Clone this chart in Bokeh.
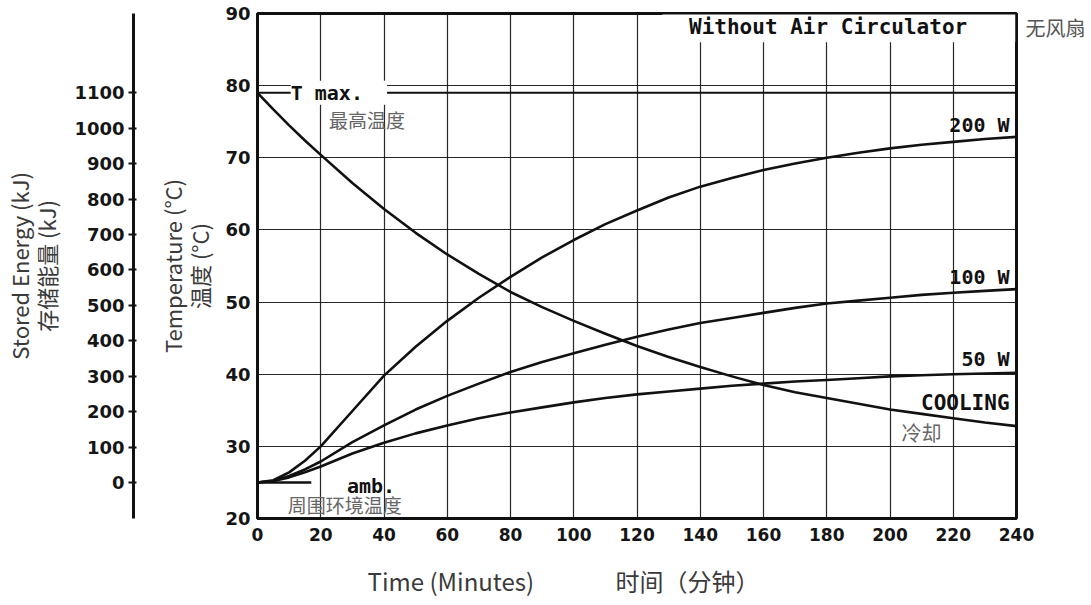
from bokeh.plotting import figure
from bokeh.models import (Range1d, LinearAxis, FixedTicker, Label, Span, BoxAnnotation)
from bokeh.embed import file_html
from bokeh.resources import INLINE

# ---------------- data ----------------
time_min = [0, 5, 10, 15, 20, 30, 40, 50, 60, 70, 80, 90, 100, 110, 120,
            130, 140, 150, 160, 170, 180, 190, 200, 210, 220, 230, 240]
temp_200w = [25.0, 25.3, 26.4, 28.0, 30.0, 34.9, 39.8, 43.8, 47.4, 50.6, 53.5, 56.2, 58.6, 60.8, 62.7,
             64.5, 66.0, 67.2, 68.3, 69.2, 70.0, 70.7, 71.3, 71.8, 72.2, 72.6, 72.9]
temp_100w = [25.0, 25.2, 25.9, 26.8, 27.9, 30.6, 32.9, 35.1, 37.0, 38.7, 40.3, 41.7, 42.9, 44.1, 45.2,
             46.2, 47.1, 47.8, 48.5, 49.2, 49.8, 50.2, 50.6, 51.0, 51.3, 51.55, 51.8]
temp_50w = [25.0, 25.2, 25.7, 26.4, 27.2, 29.0, 30.5, 31.8, 32.9, 33.9, 34.7, 35.4, 36.1, 36.7, 37.2,
            37.6, 38.0, 38.4, 38.7, 39.0, 39.2, 39.45, 39.7, 39.85, 40.0, 40.1, 40.2]
temp_cooling = [79.0, 76.7, 74.5, 72.4, 70.4, 66.5, 62.9, 59.6, 56.6, 53.9, 51.4, 49.3, 47.4, 45.6, 43.9,
                42.4, 41.0, 39.7, 38.5, 37.5, 36.7, 35.9, 35.1, 34.5, 33.9, 33.3, 32.8]

T_AMB = 25.0      # ambient temperature (°C)  -> 0 kJ stored
T_MAX = 79.0      # maximum temperature (°C)  -> 1100 kJ stored
amb_marker_minutes = [0, 17]

time_ticks = list(range(0, 241, 20))
temp_ticks = list(range(20, 91, 10))
energy_ticks = list(range(0, 1101, 100))

x_title_en = "Time  (Minutes)"
x_title_zh = "时间（分钟）"
temp_title = "Temperature (°C)\n温度 (°C)"
energy_title = "Stored Energy (kJ)\n存储能量 (kJ)"
side_note = "无风扇"

# ---------------- figure ----------------
TEMP_MIN, TEMP_MAX = 20, 90
kj_per_deg = energy_ticks[-1] / (T_MAX - T_AMB)

p = figure(width=1088, height=600, x_range=Range1d(0, 240), y_range=Range1d(TEMP_MIN, TEMP_MAX),
           output_backend="svg", toolbar_location=None,
           min_border_left=257, min_border_right=72, min_border_top=13, min_border_bottom=80)
p.extra_y_ranges = {"energy": Range1d((TEMP_MIN - T_AMB) * kj_per_deg, (TEMP_MAX - T_AMB) * kj_per_deg)}

p.background_fill_color = "white"
p.border_fill_color = "white"
p.outline_line_color = "#111111"
p.outline_line_width = 3
p.outline_line_alpha = 1.0

TICK_FONT = "DejaVu Sans"
MONO = "DejaVu Sans Mono"
CJK = "Noto Sans CJK SC"

# x axis
xa = p.xaxis[0]
xa.ticker = FixedTicker(ticks=time_ticks)
xa.axis_line_color = None
xa.major_tick_out = 0
xa.major_tick_in = 0
xa.minor_tick_line_color = None
xa.major_label_standoff = 9
xa.major_label_text_font = TICK_FONT
xa.major_label_text_font_style = "bold"
xa.major_label_text_font_size = "17px"
xa.major_label_text_color = "#151515"

# x title as a second bottom axis (labels at the title positions)
x_title_pos = [62, 136]
xt = LinearAxis(ticker=FixedTicker(ticks=x_title_pos),
                major_label_overrides={x_title_pos[0]: x_title_en, x_title_pos[1]: x_title_zh},
                axis_line_color=None, major_tick_line_color=None, minor_tick_line_color=None,
                major_tick_out=0, major_tick_in=0, major_label_standoff=19,
                major_label_text_font=CJK, major_label_text_font_size="24px",
                major_label_text_color="#3a3a3a")
p.add_layout(xt, "below")

# temperature axis
ya = p.yaxis[0]
ya.ticker = FixedTicker(ticks=temp_ticks)
ya.axis_line_color = None
ya.major_tick_out = 0
ya.major_tick_in = 0
ya.minor_tick_line_color = None
ya.major_label_standoff = 7
ya.major_label_text_font = TICK_FONT
ya.major_label_text_font_style = "bold"
ya.major_label_text_font_size = "18px"
ya.major_label_text_color = "#151515"
ya.axis_label = temp_title
ya.axis_label_standoff = 7
ya.axis_label_text_font = CJK
ya.axis_label_text_font_style = "normal"
ya.axis_label_text_font_size = "22px"
ya.axis_label_text_line_height = 0.85
ya.axis_label_text_color = "#3a3a3a"

# invisible spacer between temperature axis and energy axis
spacer = LinearAxis(y_range_name="energy", ticker=FixedTicker(ticks=[]),
                    axis_line_color=None, major_tick_line_color=None, minor_tick_line_color=None,
                    major_tick_out=0, major_tick_in=0, minor_tick_out=0, minor_tick_in=0,
                    axis_label=" ", axis_label_standoff=6, axis_label_text_font_size="10px",
                    axis_label_text_color="white")
p.add_layout(spacer, "left")

# energy axis
ea = LinearAxis(y_range_name="energy", ticker=FixedTicker(ticks=energy_ticks),
                axis_line_color="#111111", axis_line_width=3,
                major_tick_line_color="#111111", major_tick_line_width=2,
                major_tick_in=3, major_tick_out=5,
                minor_tick_line_color=None,
                major_label_standoff=4,
                major_label_text_font=TICK_FONT, major_label_text_font_style="bold",
                major_label_text_font_size="18px", major_label_text_color="#151515",
                axis_label=energy_title, axis_label_standoff=9,
                axis_label_text_font=CJK, axis_label_text_font_style="normal",
                axis_label_text_font_size="22px", axis_label_text_line_height=0.85,
                axis_label_text_color="#3a3a3a")
p.add_layout(ea, "left")

# right side note as a right axis label
note_pos = [88]
ra = LinearAxis(ticker=FixedTicker(ticks=note_pos), major_label_overrides={note_pos[0]: side_note},
                axis_line_color=None, major_tick_line_color=None, minor_tick_line_color=None,
                major_tick_out=0, major_tick_in=0, major_label_standoff=9,
                major_label_text_font=CJK, major_label_text_font_size="20px",
                major_label_text_color="#555555")
p.add_layout(ra, "right")

# grid
for g, tk in ((p.xgrid[0], time_ticks), (p.ygrid[0], temp_ticks)):
    g.ticker = FixedTicker(ticks=tk)
    g.grid_line_color = "#111111"
    g.grid_line_width = 1.2
    g.grid_line_alpha = 0.9

# white box behind the title text
p.add_layout(BoxAnnotation(left=128, right=239.6, bottom=86, top=89.85,
                           fill_color="white", fill_alpha=1.0, line_color=None))

# T max line and ambient marker
p.add_layout(Span(location=T_MAX, dimension="width", line_color="#111111", line_width=2))
p.line(amb_marker_minutes, [T_AMB, T_AMB], line_color="#111111", line_width=2.5)

# curves
for series in (temp_cooling, temp_200w, temp_100w, temp_50w):
    p.line(time_min, series, line_color="#111111", line_width=2.6, line_join="round")


def lab(x, y, text, font, size, color="#111111", align="left", style="normal", bg=None):
    kw = dict(x=x, y=y, text=text, text_font=font, text_font_size=size, text_color=color,
              text_align=align, text_baseline="middle", text_font_style=style)
    if bg:
        kw.update(background_fill_color=bg, background_fill_alpha=1.0)
    p.add_layout(Label(**kw))


# labels inside the plot
lab(232.4, 88.1, "Without  Air  Circulator", MONO, "21px", style="bold", align="right")
lab(10.5, T_MAX, " T max. ", MONO, "20px", style="bold", bg="white")
lab(22.6, 75.3, "最高温度", CJK, "19px", color="#666666")
lab(28.3, 24.5, "amb.", MONO, "20px", style="bold")
lab(9.6, 22.0, "周围环境温度", CJK, "19px", color="#666666")
lab(237.8, 74.6, "200 W", MONO, "20px", style="bold", align="right")
lab(237.8, 53.5, "100 W", MONO, "20px", style="bold", align="right")
lab(237.8, 42.1, "50 W", MONO, "20px", style="bold", align="right")
lab(237.8, 36.0, "COOLING", MONO, "21px", style="bold", align="right")
lab(203.6, 31.9, "冷却", CJK, "20px", color="#666666")

open("out.html", "w").write(file_html(p, INLINE))
